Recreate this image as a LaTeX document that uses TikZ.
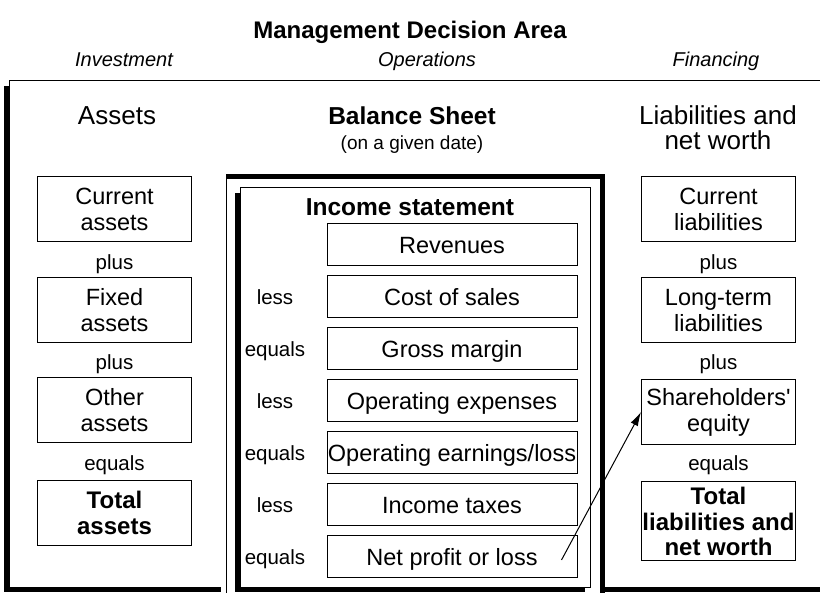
\documentclass[tikz,border=0pt]{standalone}
\usepackage{fontspec}
\setmainfont{Liberation Sans}
\usetikzlibrary{positioning,arrows.meta}

\begin{document}
\begin{tikzpicture}[x=1pt, y=-1pt, inner sep=0pt, line width=1pt,
  head/.style={font=\fontsize{26}{24}\selectfont, anchor=base},
  area/.style={font=\fontsize{20}{22}\itshape, anchor=base},
  item/.style={rectangle, draw, fill=white, align=center, font=\fontsize{23.5}{26}\selectfont},
  sidebox/.style={item, minimum width=154pt, minimum height=65pt},
  totalbox/.style={sidebox, font=\fontsize{24}{25.5}\bfseries},
  linebox/.style={item, minimum width=250pt, minimum height=42pt, text height=17pt, text depth=0.5pt},
  link/.style={font=\fontsize{20.5}{22}\selectfont, text height=15pt, text depth=0pt}]
  \clip (0,0) rectangle (820,593);

  % outer frame (balance sheet)
  \fill (4,86) rectangle (835,592);
  \draw[fill=white] (9,81) rectangle (830,587);

  % middle frame
  \fill[white] (221,174) rectangle (605,600);
  \draw (226,179) -- (226,600);
  \draw[line width=5pt] (226,176.5) -- (602.5,176.5) -- (602.5,600);

  % income statement frame
  \fill (235,193) rectangle (585,592);
  \draw[fill=white] (240,188) rectangle (590,587);

  % titles
  \node[font=\fontsize{24}{26}\bfseries, anchor=base] (title) at (410,39) {Management Decision Area};
  \node[area] (invest) at (124,67) {Investment};
  \node[area] (oper) at (427,67) {Operations};
  \node[area] (finance) at (716,67) {Financing};

  \node[head] (assets) at (117,125) {Assets};
  \node[head, font=\fontsize{24.5}{26}\bfseries] (bs) at (412,125) {Balance Sheet};
  \node[font=\fontsize{19}{20}\selectfont, anchor=base] (date) at (412,150) {(on a given date)};
  \node[head] (liab) at (718,125) {Liabilities and};
  \node[head] (worth) at (718,150) {net worth};

  % assets column
  \node[sidebox] (ca) at (114.5,209.5) {Current\\assets};
  \node[link] (p1) at (114.5,262) {plus};
  \node[sidebox] (fa) at (114.5,310.5) {Fixed\\assets};
  \node[link] (p2) at (114.5,362) {plus};
  \node[sidebox] (oa) at (114.5,410.5) {Other\\assets};
  \node[link] (e1) at (114.5,463) {equals};
  \node[totalbox] (ta) at (114.5,513) {Total\\assets};

  % liabilities column
  \node[sidebox] (cl) at (718.5,209.5) {Current\\liabilities};
  \node[link] (p3) at (718.5,262) {plus};
  \node[sidebox] (ll) at (718.5,310.5) {Long-term\\liabilities};
  \node[link] (p4) at (718.5,362) {plus};
  \node[sidebox] (share) at (718.5,412) {Shareholders\textquotesingle\\equity};
  \node[link] (e2) at (718.5,463) {equals};
  \node[totalbox, minimum height=79pt] (tl) at (718.5,521.5) {Total\\liabilities and\\net worth};

  % income statement
  \node[font=\fontsize{24.5}{26}\bfseries, anchor=base] (is) at (410,216) {Income statement};
  \node[linebox] (rev) at (452,245) {Revenues};
  \node[linebox] (cos) at (452,297) {Cost of sales};
  \node[link] at (275,297) {less};
  \node[linebox] (gm) at (452,349) {Gross margin};
  \node[link] at (275,349) {equals};
  \node[linebox] (opex) at (452,401) {Operating expenses};
  \node[link] at (275,401) {less};
  \node[linebox] (opearn) at (452,453) {Operating earnings/loss};
  \node[link] at (275,453) {equals};
  \node[linebox] (tax) at (452,505) {Income taxes};
  \node[link] at (275,505) {less};
  \node[linebox] (net) at (452,557) {Net profit or loss};
  \node[link] at (275,557) {equals};

  \coordinate (np) at ([xshift=-16pt,yshift=-3pt]net.east);
  \draw[-{Latex[length=14pt,width=8pt]}] (np) -- (share.west);
\end{tikzpicture}
\end{document}
